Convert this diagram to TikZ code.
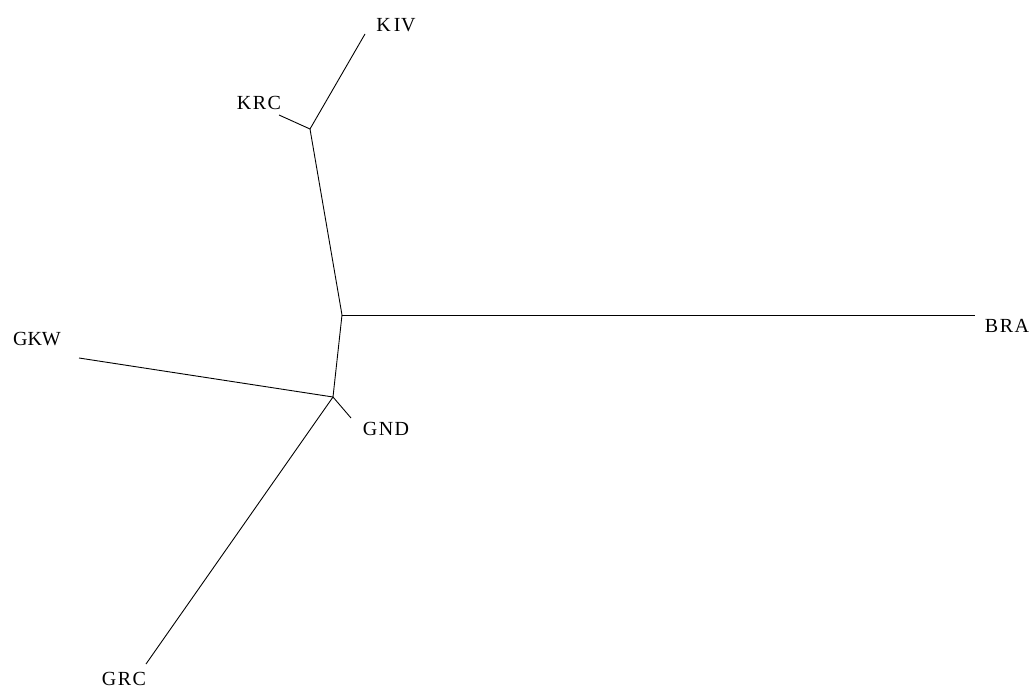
\documentclass[tikz,border=0pt]{standalone}
\usepackage{fontspec}
\setmainfont{Liberation Serif}
\begin{document}
\begin{tikzpicture}[x=1pt,y=-1pt,
  edge/.style={draw=black,line width=0.9pt},
  lbl/.style={inner sep=0pt,font=\fontsize{20}{20}\selectfont}]
\useasboundingbox (0,0) rectangle (1034,688);
% internal nodes
\coordinate (A) at (310,129);
\coordinate (B) at (342,315);
\coordinate (C) at (333,397);
% tips
\coordinate (tKIV) at (365,34);
\coordinate (tKRC) at (279,115);
\coordinate (tBRA) at (975,315);
\coordinate (tGKW) at (79,358);
\coordinate (tGND) at (351,418);
\coordinate (tGRC) at (146,664);
% labels
\node[lbl] (KIV) at (396,25) {K\kern3pt I\kern0.5pt V};
\node[lbl] (KRC) at (259,103) {K\kern1.5pt R\kern1.5pt C};
\node[lbl] (BRA) at (1007,326) {B\kern1.5pt R\kern1.5pt A};
\node[lbl] (GKW) at (37,339) {GKW};
\node[lbl] (GND) at (386,429) {G\kern1.5pt N\kern1.5pt D};
\node[lbl] (GRC) at (124,678.5) {G\kern1.5pt R\kern1.5pt C};
% edges
\draw[edge] (tKIV) -- (A);
\draw[edge] (tKRC) -- (A);
\draw[edge] (A) -- (B);
\draw[edge] (B) -- (tBRA);
\draw[edge] (B) -- (C);
\draw[edge] (tGKW) -- (C);
\draw[edge] (C) -- (tGND);
\draw[edge] (C) -- (tGRC);
\end{tikzpicture}
\end{document}
